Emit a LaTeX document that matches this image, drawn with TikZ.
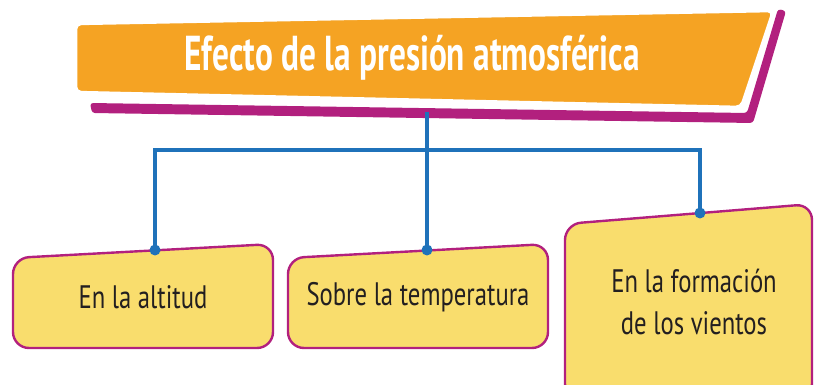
\documentclass[tikz,border=0pt]{standalone}
\usepackage{fontspec}
\setmainfont{PT Sans}[FakeStretch=0.76]
\newfontfamily\titlefont{PT Sans}[FakeStretch=0.68]
\usepackage{tikz}
\usetikzlibrary{positioning}
\definecolor{morange}{HTML}{F5A323}
\definecolor{mmagenta}{HTML}{B2207E}
\definecolor{myellow}{HTML}{F9DD6D}
\definecolor{mblue}{HTML}{1F72BA}
\definecolor{mtext}{HTML}{231F20}
\tikzset{box/.style = {fill=myellow, draw=mmagenta, line width=2.4pt, rounded corners=16pt},
         boxtext/.style = {text=mtext, font=\fontsize{32.5}{42}\selectfont, align=center},
         link/.style = {mblue, line width=3.2pt},
         dot/.style = {circle, fill=mblue, inner sep=0pt, minimum size=11pt}}

\begin{document}
\begin{tikzpicture}[x=1pt, y=-1pt]
    \useasboundingbox (0, 0) rectangle (815, 385);

    % title banner
    \fill [mmagenta, rounded corners=3pt] (90, 103) -- (747, 113) -- (778, 9) -- (786, 11) -- (753, 123) -- (92, 113) -- cycle;
    \filldraw [morange, draw=white, line width=2.5pt, rounded corners=5pt] (76, 24) -- (773, 11) -- (741, 107) -- (76, 92) -- cycle;
    \node [text=white, font=\titlefont\bfseries\fontsize{49}{56}\selectfont] (title) at (412, 58) {Efecto de la presión atmosférica};
    \coordinate (tbot) at (427, 112);

    % boxes
    \draw [box] (13, 258) -- (273, 244) -- (273, 348) -- (13, 348) -- cycle;
    \draw [box] (288, 258) -- (548, 244) -- (548, 348) -- (288, 348) -- cycle;
    \draw [box] (565, 224) -- (812, 204) -- (812, 400) -- (565, 400) -- cycle;

    \node [boxtext] (alt) at (143, 297) {En la altitud};
    \node [boxtext] (temp) at (418, 297) {Sobre la temperatura};
    \node [boxtext] (vien) at (694, 302) {En la formación\\de los vientos};

    \coordinate (d1) at (155, 250);
    \coordinate (d2) at (427, 250);
    \coordinate (d3) at (700, 213);

    % connectors
    \draw [link] (tbot) -- (d2);
    \draw [link] (d1) |- (427, 150) -| (d3);
    \node [dot] at (d1) {};
    \node [dot] at (d2) {};
    \node [dot] at (d3) {};
\end{tikzpicture}
\end{document}
